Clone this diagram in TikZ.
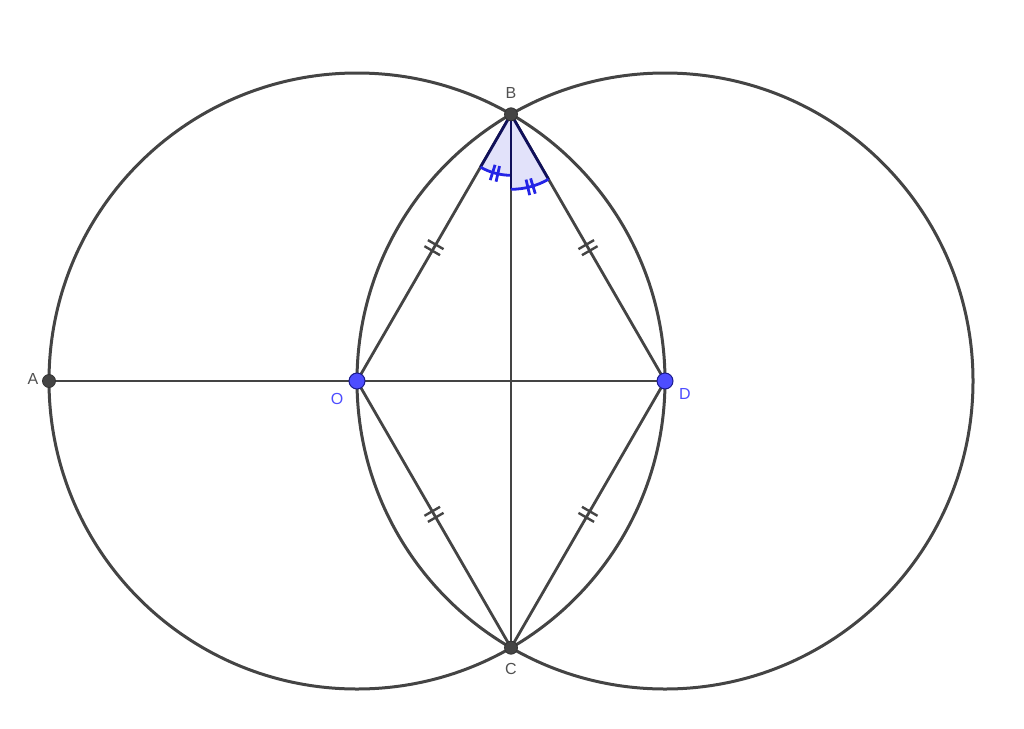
\documentclass[tikz,border=0pt]{standalone}
\usepackage{fontspec}
\setmainfont{Liberation Sans}
\usetikzlibrary{decorations.markings}
\definecolor{edge}{HTML}{444444}
\definecolor{ptblue}{HTML}{4D4DFF}
\definecolor{ptblueline}{HTML}{1A1A8C}
\definecolor{navy}{HTML}{10105A}
\definecolor{angfill}{HTML}{E2E2FA}
\definecolor{arcblue}{HTML}{2424E6}
\definecolor{lblgray}{HTML}{505050}
\begin{document}
\begin{tikzpicture}[x=1pt,y=-1pt,
  seg/.style={draw=edge, line width=2.8pt},
  circ/.style={draw=edge, line width=3pt},
  dbltick/.style={postaction={decorate},
    decoration={markings, mark=at position 0.5 with {\draw[edge,line width=2.4pt] (-3.5,-9)--(-3.5,9) (3.5,-9)--(3.5,9);}}},
  graydot/.style={circle, fill=edge, draw=black!80, line width=0.8pt, minimum size=13pt, inner sep=0pt},
  bluedot/.style={circle, fill=ptblue, draw=ptblueline, line width=1pt, minimum size=16pt, inner sep=0pt},
  lbl/.style={font=\fontsize{16}{19}\selectfont, text=lblgray, inner sep=0pt},
  bluelbl/.style={lbl, text=ptblue},
  angedge/.style={draw=navy, line width=2.8pt},
  angarc/.style={draw=arcblue, line width=2.8pt}
]
\useasboundingbox (0,0) rectangle (1024,728);
\coordinate (A) at (49,381);
\coordinate (O) at (357,381);
\coordinate (D) at (665,381);
\coordinate (B) at (511,114.3);
\coordinate (C) at (511,647.7);

% circles
\draw[circ] (O) circle[radius=308];
\draw[circ] (D) circle[radius=308];

% segments
\draw[seg] (A) -- (D);
\draw[seg] (B) -- (C);
\draw[seg, dbltick] (O) -- (B);
\draw[seg, dbltick] (B) -- (D);
\draw[seg, dbltick] (O) -- (C);
\draw[seg, dbltick] (C) -- (D);

% angle OBC
\fill[angfill] (B) -- ++(120:61) arc[start angle=120, end angle=90, radius=61] -- cycle;
\draw[angedge] (B) -- ++(120:61);
\draw[angedge] (B) -- ++(90:61);
\draw[angarc] (B) ++(120:61) arc[start angle=120, end angle=90, radius=61];
\draw[angarc] (B) ++(102.5:53) -- ++(102.5:16);
\draw[angarc] (B) ++(107.5:53) -- ++(107.5:16);

% angle CBD
\fill[angfill] (B) -- ++(90:75) arc[start angle=90, end angle=60, radius=75] -- cycle;
\draw[angedge] (B) -- ++(90:75);
\draw[angedge] (B) -- ++(60:75);
\draw[angarc] (B) ++(90:75) arc[start angle=90, end angle=60, radius=75];
\draw[angarc] (B) ++(73:67) -- ++(73:16);
\draw[angarc] (B) ++(77:67) -- ++(77:16);

% points
\node[graydot] (pA) at (A) {};
\node[bluedot] (pO) at (O) {};
\node[bluedot] (pD) at (D) {};
\node[graydot] (pB) at (B) {};
\node[graydot] (pC) at (C) {};

% labels
\node[lbl] (lA) at (33,379) {A};
\node[bluelbl] (lO) at (337,399) {O};
\node[bluelbl] (lD) at (685,394) {D};
\node[lbl] (lB) at (511,93) {B};
\node[lbl] (lC) at (511,669) {C};
\end{tikzpicture}
\end{document}
